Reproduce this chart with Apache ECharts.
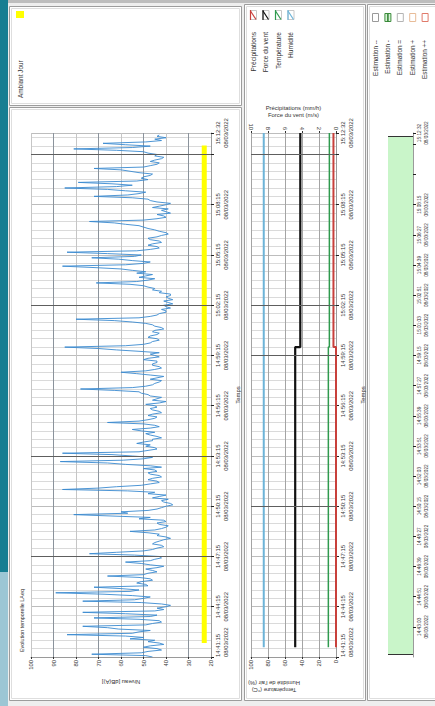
<!DOCTYPE html>
<html>
<head>
<meta charset="utf-8">
<script src="https://cdn.jsdelivr.net/npm/echarts@6/dist/echarts.min.js"></script>
<style>
  html, body { margin: 0; padding: 0; background: #eeeeee; }
  #chart { width: 435px; height: 706px; }
</style>
</head>
<body>
<div id="chart"></div>
<script>
// ---- Time base (seconds counted from 14:41:15, 08/03/2022) ----
const START_CLOCK_S = 14 * 3600 + 41 * 60 + 15;
const END_OFFSET_S = 1877;            // 15:12:32
const DATE_TEXT = '08/03/2022';

// ---- LAeq, one value every LAEQ_STEP_S seconds, dB(A) ----
const LAEQ_STEP_S = 5;
const laeqValues = [
  46, 49, 73, 51, 48, 42, 44, 50, 47, 41, 43, 48, 45, 56, 50, 58, 84, 55, 52, 47,
  61, 66, 77, 49, 46, 42, 43, 52, 72, 47, 44, 58, 77, 45, 41, 44, 40, 38, 42, 51,
  77, 54, 50, 47, 55, 68, 89, 56, 52, 60, 72, 48, 49, 53, 51, 46, 47, 52, 66, 50,
  48, 44, 46, 49, 44, 41, 47, 51, 58, 47, 45, 42, 43, 54, 74, 62, 50, 46, 44, 41,
  42, 46, 45, 43, 41, 38, 40, 44, 43, 48, 56, 45, 42, 40, 39, 43, 44, 40, 41, 52,
  47, 64, 81, 57, 60, 48, 44, 42, 40, 37, 38, 41, 42, 39, 46, 43, 40, 48, 45, 57,
  86, 70, 62, 51, 47, 43, 44, 48, 46, 42, 43, 47, 48, 44, 45, 50, 42, 47, 58, 66,
  87, 59, 50, 46, 55, 64, 86, 52, 48, 44, 45, 49, 47, 53, 50, 46, 46, 42, 44, 47,
  49, 45, 51, 55, 47, 43, 45, 50, 66, 52, 48, 45, 44, 48, 46, 42, 43, 46, 47, 44,
  45, 49, 43, 40, 46, 44, 42, 47, 48, 51, 52, 63, 78, 55, 49, 46, 45, 43, 42, 47,
  44, 41, 47, 53, 60, 49, 45, 42, 43, 46, 46, 44, 44, 50, 48, 43, 45, 47, 43, 52,
  62, 70, 85, 58, 50, 47, 46, 43, 44, 48, 47, 44, 43, 46, 45, 41, 42, 45, 46, 49,
  55, 63, 80, 52, 47, 44, 43, 40, 40, 42, 38, 40, 41, 37, 39, 41, 37, 39, 40, 38,
  38, 43, 42, 46, 45, 48, 50, 56, 71, 53, 48, 45, 52, 49, 46, 53, 49, 55, 60, 72,
  86, 58, 50, 47, 55, 61, 73, 54, 51, 66, 84, 53, 47, 43, 44, 48, 46, 42, 43, 47,
  48, 44, 42, 39, 40, 43, 45, 48, 50, 52, 58, 63, 74, 50, 44, 40, 41, 44, 38, 40,
  42, 39, 46, 43, 40, 38, 44, 47, 48, 55, 72, 57, 52, 49, 58, 66, 85, 62, 55, 64,
  79, 53, 48, 51, 50, 47, 46, 52, 56, 60, 72, 50, 47, 44, 43, 47, 45, 42, 41, 45,
  44, 48, 50, 62, 81, 55, 47, 58, 68, 49, 42, 45, 40, 44, 43
];

// ---- Period marker ----
const periodLabel = 'Ambiant Jour';
const periodStartS = 50;
const periodEndS = 1832;
const periodLevel = 23;

// ---- Weather (value before / after the change time) ----
const weatherStartS = 35;
const weatherChangeS = 1110;
const precipitation = [0, 0.3];   // mm/h
const windForce = [4.8, 4.2];     // m/s
const temperature = [9, 7.8];     // °C
const humidity = [85, 85];        // %
const weatherNames = ['Précipitations', 'Force du vent', 'Température', 'Humidité'];
const weatherColors = ['#c8403c', '#111111', '#2f9a4e', '#6db4d8'];

// ---- Estimation band ----
const estimationLabels = ['Estimation --', 'Estimation -', 'Estimation =', 'Estimation +', 'Estimation ++'];
const estimationStartS = 11;
const estimationEndS = 1864;
const estimationLevel = 1;

// ---- Heavier horizontal rules ----
const darkRulesLevel = [360, 720, 1260, 1800];
const darkRulesWeather = [540, 1080, 1260, 1800];

const FONT = '"Liberation Sans", Arial, sans-serif';
const TXT = '#333333';

function clock(off) {
  const s = START_CLOCK_S + Math.round(off);
  const p = n => String(n).padStart(2, '0');
  return p(Math.floor(s / 3600)) + ':' + p(Math.floor((s % 3600) / 60)) + ':' + p(s % 60);
}

function timeAxis(gridIndex, interval, hidden, withName, gridLines, size) {
  return {
    type: 'value', gridIndex, min: 0, max: END_OFFSET_S, interval, position: 'right',
    axisLine: { show: true, lineStyle: { color: '#9a9a9a', width: 1 } },
    axisTick: { show: true, length: 3, lineStyle: { color: '#222' } },
    minorTick: { show: false, splitNumber: 6 },
    minorSplitLine: { show: gridLines, lineStyle: { color: '#dadada', width: 1 } },
    splitLine: { show: gridLines, lineStyle: { color: '#bdbdbd', width: 1 } },
    axisLabel: {
      rotate: 90, margin: 3, fontSize: size, lineHeight: size + 2, color: TXT, fontFamily: FONT,
      alignMinLabel: 'left',
      formatter: v => hidden.indexOf(v) >= 0 ? '' : clock(v) + '\n' + DATE_TEXT
    },
    name: withName ? 'Temps' : '', nameLocation: 'middle', nameRotate: 90, nameGap: 24,
    nameMoveOverlap: false,
    nameTextStyle: { fontSize: 6, color: TXT, fontFamily: FONT }
  };
}

function stepPoints(vals) {
  return [[vals[0], weatherStartS], [vals[0], weatherChangeS],
          [vals[1], weatherChangeS], [vals[1], END_OFFSET_S]];
}

function rules(list) {
  return {
    silent: true, symbol: 'none', animation: false, label: { show: false },
    lineStyle: { color: '#5e5e5e', width: 1, type: 'solid' },
    data: list.map(t => ({ yAxis: t }))
  };
}

// ---- Panels, strip and legends ----
function panel(x, y, w, h) {
  return [
    { type: 'rect', z: -10, shape: { x: x + 0.5, y: y + 0.5, width: w, height: h },
      style: { fill: '#ffffff', stroke: '#9c9c9c', lineWidth: 1 } },
    { type: 'rect', z: -9, shape: { x: x + 2.5, y: y + 2.5, width: w - 4, height: h - 4 },
      style: { fill: 'none', stroke: '#dedede', lineWidth: 1 } }
  ];
}
function vText(text, x, y, align, size) {
  return { type: 'text', x, y, rotation: Math.PI / 2, z: 5,
    style: { text, fontSize: size || 6, fill: TXT, fontFamily: FONT, align, verticalAlign: 'middle' } };
}

const graphics = [
  { type: 'rect', z: -10, shape: { x: 0, y: 0, width: 435, height: 3 }, style: { fill: '#bdbdbd' } },
  { type: 'rect', z: -8, shape: { x: 0, y: 0, width: 8, height: 572 }, style: { fill: '#177e92' } },
  { type: 'rect', z: -8, shape: { x: 0, y: 572, width: 8, height: 134 }, style: { fill: '#9cc6d4' } },
  ...panel(9, 6, 232, 99),
  ...panel(9, 107, 232, 593),
  ...panel(244, 4, 121, 696),
  ...panel(367, 4, 72, 696),
  // level legend
  { type: 'rect', z: 5, shape: { x: 16, y: 11, width: 8, height: 7 }, style: { fill: '#ffff00' } },
  vText(periodLabel, 20, 98, 'left', 6.4),
  // chart title
  vText('Evolution temporelle LAeq', 22, 652, 'left', 5.4),
  // bottom name of the weather chart
  { type: 'text', x: 274, y: 686, rotation: Math.PI, z: 5,
    style: { text: 'Température (°C)\nHumidité de l\'air (%)', fontSize: 5.8, lineHeight: 7,
             fill: TXT, fontFamily: FONT, align: 'center', verticalAlign: 'middle' } }
];

// weather legend
weatherNames.forEach((n, k) => {
  const x = 250 + k * 12.5;
  graphics.push(
    { type: 'rect', z: 5, shape: { x: x + 0.5, y: 10.5, width: 6, height: 9 }, style: { fill: '#fff', stroke: '#c8c8c8', lineWidth: 1 } },
    { type: 'polyline', z: 6, shape: { points: [[x + 0.5, 10], [x + 0.5, 20]] }, style: { stroke: weatherColors[k], lineWidth: 1.2 } },
    { type: 'polyline', z: 6, shape: { points: [[x + 0.5, 11], [x + 6, 19.5]] }, style: { stroke: weatherColors[k], lineWidth: 1.2 } },
    vText(n, x + 3, 32, 'right', 6.6)
  );
});

// estimation legend
const estBoxStroke = ['#9a9a9a', '#3c8c3c', '#b4b4b4', '#e8bc98', '#e07a6a'];
estimationLabels.forEach((n, k) => {
  const x = 372 + k * 12.4;
  graphics.push(
    { type: 'rect', z: 5, shape: { x: x + 0.5, y: 13.5, width: 6, height: 8 },
      style: { fill: k === 1 ? '#d6f3d6' : '#ffffff', stroke: estBoxStroke[k], lineWidth: 1 } }
  );
  if (k === 1) {
    graphics.push({ type: 'polyline', z: 6, shape: { points: [[x + 3.5, 14], [x + 3.5, 21.5]] }, style: { stroke: '#2d7d2d', lineWidth: 1.5 } });
  }
  graphics.push(vText(n, x + 3, 40, 'right', 6.4));
});

const chart = echarts.init(document.getElementById('chart'), null, { renderer: 'svg' });

chart.setOption({
  animation: false,
  backgroundColor: 'transparent',
  graphic: graphics,
  grid: [
    { left: 31, top: 133, width: 180, height: 524, outerBoundsMode: 'none' },
    { left: 251, top: 133, width: 85, height: 524, outerBoundsMode: 'none' },
    { left: 388, top: 133, width: 25, height: 524, outerBoundsMode: 'none' }
  ],
  xAxis: [
    {
      type: 'value', gridIndex: 0, min: 20, max: 100, interval: 10, inverse: true, position: 'bottom',
      axisLine: { show: true, lineStyle: { color: '#9a9a9a' } },
      axisTick: { show: true, length: 2, lineStyle: { color: '#333' } },
      axisLabel: { rotate: 90, margin: 3, fontSize: 5.9, color: TXT, fontFamily: FONT },
      splitLine: { show: true, lineStyle: { color: ['#c6c6c6', '#8b939c'], width: 1 } },
      name: 'Niveau [dB(A)]', nameLocation: 'middle', nameRotate: 180, nameGap: 22,
      nameMoveOverlap: false,
      nameTextStyle: { fontSize: 5.9, color: TXT, fontFamily: FONT }
    },
    {
      type: 'value', gridIndex: 1, min: 0, max: 100, interval: 20, inverse: true, position: 'bottom',
      axisLine: { show: true, lineStyle: { color: '#9a9a9a' } },
      axisTick: { show: true, length: 2, lineStyle: { color: '#333' } },
      axisLabel: { rotate: 90, margin: 3, fontSize: 5.9, color: TXT, fontFamily: FONT },
      splitLine: { show: true, lineStyle: { color: '#a4a4a4', width: 1 } }
    },
    {
      type: 'value', gridIndex: 1, min: 0, max: 10, interval: 2, inverse: true, position: 'top',
      axisLine: { show: false },
      axisTick: { show: true, length: 2, lineStyle: { color: '#333' } },
      axisLabel: { rotate: 90, margin: 3, fontSize: 5.9, color: TXT, fontFamily: FONT },
      splitLine: { show: false },
      name: 'Précipitations (mm/h)\nForce du vent (m/s)', nameLocation: 'middle', nameGap: 15,
      nameMoveOverlap: false,
      nameTextStyle: { fontSize: 5.9, lineHeight: 7, color: TXT, fontFamily: FONT }
    },
    {
      type: 'value', gridIndex: 2, min: 0, max: 1, inverse: true, show: false
    }
  ],
  yAxis: [
    timeAxis(0, 180, [1800], true, true, 5.9),
    timeAxis(1, 180, [1800], true, true, 5.9),
    timeAxis(2, 108, [1728, 1836], false, false, 4.7)
  ],
  series: [
    {
      name: 'LAeq', type: 'line', xAxisIndex: 0, yAxisIndex: 0, z: 3,
      data: laeqValues.map((v, i) => [v, i * LAEQ_STEP_S]),
      showSymbol: false, symbol: 'none',
      lineStyle: { color: '#3a8ad0', width: 0.9 },
      markLine: rules(darkRulesLevel)
    },
    {
      name: periodLabel, type: 'line', xAxisIndex: 0, yAxisIndex: 0, z: 4,
      data: [[periodLevel, periodStartS], [periodLevel, periodEndS]],
      showSymbol: false, symbol: 'none',
      lineStyle: { color: '#ffff00', width: 5, cap: 'butt' }
    },
    {
      name: weatherNames[3], type: 'line', xAxisIndex: 1, yAxisIndex: 1, z: 3,
      data: stepPoints(humidity), showSymbol: false, symbol: 'none',
      lineStyle: { color: weatherColors[3], width: 2 },
      markLine: rules(darkRulesWeather)
    },
    {
      name: weatherNames[2], type: 'line', xAxisIndex: 1, yAxisIndex: 1, z: 3,
      data: stepPoints(temperature), showSymbol: false, symbol: 'none',
      lineStyle: { color: weatherColors[2], width: 1.5 }
    },
    {
      name: weatherNames[1], type: 'line', xAxisIndex: 2, yAxisIndex: 1, z: 3,
      data: stepPoints(windForce), showSymbol: false, symbol: 'none',
      lineStyle: { color: weatherColors[1], width: 2.2 }
    },
    {
      name: weatherNames[0], type: 'line', xAxisIndex: 2, yAxisIndex: 1, z: 3,
      data: stepPoints(precipitation), showSymbol: false, symbol: 'none',
      lineStyle: { color: weatherColors[0], width: 2 }
    },
    {
      name: 'Estimation', type: 'line', xAxisIndex: 3, yAxisIndex: 2, z: 3,
      data: [[estimationLevel, estimationStartS], [estimationLevel, estimationEndS]],
      showSymbol: false, symbol: 'none',
      lineStyle: { width: 0, opacity: 0 },
      markArea: {
        silent: true,
        itemStyle: { color: '#c9f5c9' },
        data: [[{ xAxis: 0, yAxis: estimationStartS }, { xAxis: estimationLevel, yAxis: estimationEndS }]]
      },
      markLine: {
        silent: true, symbol: 'none', label: { show: false },
        lineStyle: { color: '#333', width: 1, type: 'solid' },
        data: [{ yAxis: estimationStartS }, { yAxis: estimationEndS }]
      }
    }
  ]
});
</script>
</body>
</html>
